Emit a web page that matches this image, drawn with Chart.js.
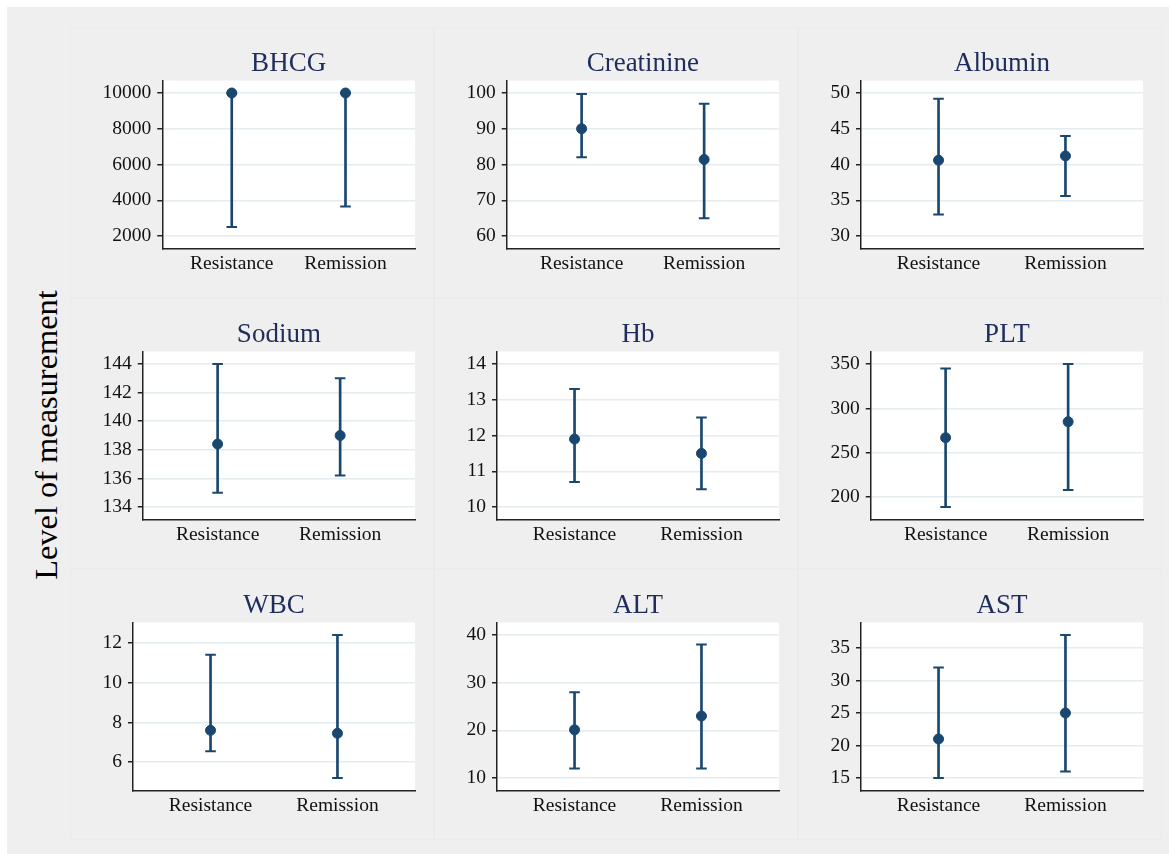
<!DOCTYPE html>
<html>
<head>
<meta charset="utf-8">
<title>Level of measurement by group</title>
<script src="https://cdn.jsdelivr.net/npm/chart.js@4.4.1/dist/chart.umd.min.js"></script>
<style>
  html, body { margin: 0; padding: 0; background: #ffffff; }
  body { width: 1169px; height: 854px; position: relative; overflow: hidden;
         font-family: 'Liberation Serif', 'Times New Roman', serif; }
  #graph { position: absolute; left: 7px; top: 7px; right: 0; bottom: 0; background: #efefef; }
  .frame { position: absolute; box-sizing: border-box; border: 1px solid #e8ecef; }
  canvas.panel { position: absolute; }
  #ytitle { position: absolute; width: 420px; height: 40px; line-height: 40px;
            left: -164px; top: 415px; text-align: center; font-size: 32.4px; color: #000;
            transform: rotate(-90deg); white-space: nowrap; }
</style>
</head>
<body>
<div id="graph"></div>
<div id="ytitle">Level of measurement</div>
<script>
// Measures shown, one panel each (row by row)
const panelNames = ['BHCG', 'Creatinine', 'Albumin', 'Sodium', 'Hb', 'PLT', 'WBC', 'ALT', 'AST'];

// Groups on the x axis
const groupLabels = ['Resistance', 'Remission'];
const groupPositions = [1, 2];

// Central value per group [Resistance, Remission]
const meanValues = [
  [10000, 10000],
  [90, 81.4],
  [40.6, 41.2],
  [138.4, 139.0],
  [11.9, 11.5],
  [267, 285],
  [7.6, 7.45],
  [20.1, 23.0],
  [21.0, 25.0]
];

// Lower end of each interval
const lowerValues = [
  [2500, 3650],
  [82, 65],
  [33, 35.6],
  [135, 136.2],
  [10.7, 10.5],
  [189, 208],
  [6.55, 5.2],
  [12, 12],
  [15, 16]
];

// Upper end of each interval
const upperValues = [
  [10000, 10000],
  [99.7, 97],
  [49.2, 44],
  [144, 143],
  [13.3, 12.5],
  [345, 350],
  [11.4, 12.4],
  [28, 38],
  [32, 37]
];

// Y-axis tick labels per panel
const tickValues = [
  [2000, 4000, 6000, 8000, 10000],
  [60, 70, 80, 90, 100],
  [30, 35, 40, 45, 50],
  [134, 136, 138, 140, 142, 144],
  [10, 11, 12, 13, 14],
  [200, 250, 300, 350],
  [6, 8, 10, 12],
  [10, 20, 30, 40],
  [15, 20, 25, 30, 35]
];

const NAVY = '#1a476f';
const TITLE_COLOR = '#1f2d5c';
const AXIS_COLOR = '#222222';
const GRID_COLOR = '#e5ecef';
const SERIF = "'Liberation Serif', 'Times New Roman', serif";

const cellLeft = [70, 434, 798];
const cellTop = [27, 298, 569];
const CELL_W = 364, CELL_H = 271;

// Value range of a panel: data and ticks, with a margin at both ends
function valueRange(i) {
  const all = lowerValues[i].concat(upperValues[i], meanValues[i], tickValues[i]);
  const lo = Math.min(...all), hi = Math.max(...all);
  const margin = 0.0744;
  const full = (hi - lo) / (1 - 2 * margin);
  return { min: lo - margin * full, max: hi + margin * full };
}

// White plot region behind the marks
const plotBackground = {
  id: 'plotBackground',
  beforeDraw(chart) {
    const { ctx, chartArea: a } = chart;
    ctx.save();
    ctx.fillStyle = '#ffffff';
    ctx.fillRect(a.left, a.top, a.right - a.left, a.bottom - a.top);
    ctx.restore();
  }
};

// Panel heading centred over the plot region
const panelTitle = {
  id: 'panelTitle',
  afterDraw(chart, args, opts) {
    const { ctx, chartArea: a } = chart;
    ctx.save();
    ctx.font = '27px ' + SERIF;
    ctx.fillStyle = TITLE_COLOR;
    ctx.textAlign = 'center';
    ctx.textBaseline = 'alphabetic';
    ctx.fillText(opts.text, (a.left + a.right) / 2, a.top - 9.5);
    ctx.restore();
  }
};

const graph = document.body;

panelNames.forEach((name, i) => {
  const col = i % 3, row = Math.floor(i / 3);

  const frame = document.createElement('div');
  frame.className = 'frame';
  frame.style.left = cellLeft[col] + 'px';
  frame.style.top = cellTop[row] + 'px';
  frame.style.width = CELL_W + 'px';
  frame.style.height = CELL_H + 'px';
  graph.appendChild(frame);

  const canvas = document.createElement('canvas');
  canvas.className = 'panel';
  canvas.width = CELL_W;
  canvas.height = CELL_H;
  canvas.style.left = cellLeft[col] + 'px';
  canvas.style.top = cellTop[row] + 'px';
  canvas.style.width = CELL_W + 'px';
  canvas.style.height = CELL_H + 'px';
  graph.appendChild(canvas);

  const range = valueRange(i);

  const whiskers = groupPositions.map((x, j) => ({ x, y: [lowerValues[i][j], upperValues[i][j]] }));
  const caps = [];
  groupPositions.forEach((x, j) => {
    caps.push({ x, y: lowerValues[i][j] });
    caps.push({ x, y: upperValues[i][j] });
  });
  const centres = groupPositions.map((x, j) => ({ x, y: meanValues[i][j] }));

  new Chart(canvas, {
    type: 'scatter',
    data: {
      datasets: [
        { type: 'bar', data: whiskers, backgroundColor: NAVY, borderWidth: 0,
          barThickness: 2, order: 3 },
        { type: 'scatter', data: caps, pointStyle: 'line', pointRadius: 5.3,
          borderColor: NAVY, borderWidth: 2, order: 2 },
        { type: 'scatter', data: centres, pointStyle: 'circle', pointRadius: 5,
          backgroundColor: NAVY, borderColor: NAVY, borderWidth: 1, order: 1 }
      ]
    },
    options: {
      responsive: false,
      animation: false,
      devicePixelRatio: 1,
      events: [],
      layout: { padding: { top: 53.5, left: 26.5, right: 19, bottom: 0 } },
      plugins: {
        legend: { display: false },
        tooltip: { enabled: false },
        panelTitle: { text: name }
      },
      scales: {
        x: {
          type: 'linear', min: 0.389, max: 2.611, offset: false,
          grid: { display: false, drawTicks: false },
          border: { display: true, color: AXIS_COLOR, width: 1.5 },
          ticks: {
            font: { family: SERIF, size: 19.5 }, color: '#111111', padding: 4,
            maxRotation: 0,
            callback: (v) => groupLabels[groupPositions.indexOf(v)]
          },
          afterBuildTicks: (s) => { s.ticks = groupPositions.map(v => ({ value: v })); },
          afterFit: (s) => { s.height = 49.5; }
        },
        y: {
          type: 'linear', min: range.min, max: range.max, beginAtZero: false,
          grid: { color: GRID_COLOR, lineWidth: 1.5, drawTicks: true, tickLength: 5,
                  tickColor: AXIS_COLOR, tickWidth: 1.5 },
          border: { display: true, color: AXIS_COLOR, width: 1.5 },
          ticks: {
            font: { family: SERIF, size: 19.5 }, color: '#111111', padding: 6,
            callback: (v) => String(v)
          },
          afterBuildTicks: (s) => { s.ticks = tickValues[i].map(v => ({ value: v })); }
        }
      }
    },
    plugins: [plotBackground, panelTitle]
  });
});
</script>
</body>
</html>
